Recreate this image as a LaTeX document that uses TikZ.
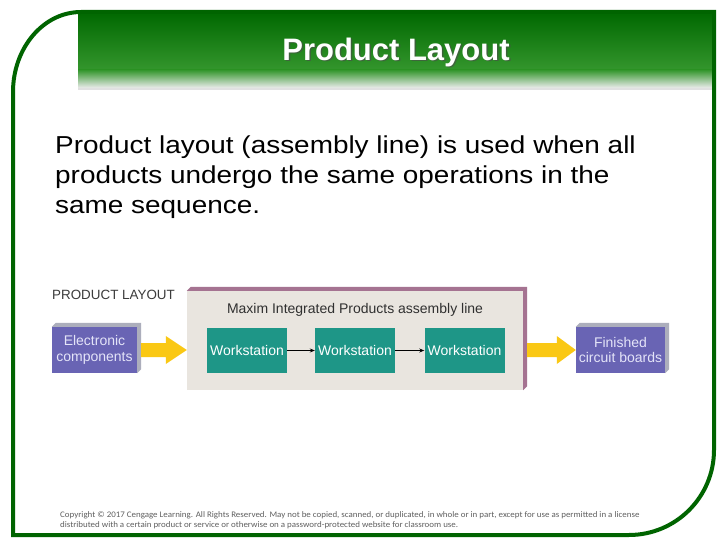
\documentclass[tikz,border=0pt]{standalone}
\usepackage{fontspec}
\setmainfont{Liberation Sans}
\newfontfamily\bodyfont[FakeStretch=1.14]{Liberation Sans}
\newfontfamily\cali[FakeStretch=1.05]{Carlito}
\usetikzlibrary{arrows.meta}
\definecolor{frameg}{RGB}{0,100,0}
\definecolor{hdrdark}{RGB}{0,104,0}
\definecolor{hdrmid}{RGB}{52,150,45}
\definecolor{hdrlight}{RGB}{236,236,236}
\definecolor{mauve}{RGB}{165,115,145}
\definecolor{beige}{RGB}{233,229,223}
\definecolor{tealbox}{RGB}{30,150,135}
\definecolor{purp}{RGB}{105,100,180}
\definecolor{ptext}{RGB}{228,228,248}
\definecolor{depthgray}{RGB}{172,174,188}
\definecolor{yel}{RGB}{250,200,20}
\definecolor{labgray}{RGB}{60,60,60}
\definecolor{copygray}{RGB}{95,95,95}
\begin{document}
\begin{tikzpicture}[x=1pt,y=-1pt,
  wsbox/.style={fill=tealbox, text=white, minimum width=80pt, minimum height=45pt, inner sep=0pt, font=\fontsize{14}{16}\selectfont},
  pbox/.style={fill=purp, text=ptext, minimum height=46pt, inner sep=0pt, align=center, font=\fontsize{14}{15.5}\selectfont},
  yarrow/.style={fill=yel},
  smallarr/.style={draw=black, line width=0.9pt, -{Stealth[length=5pt,width=4pt]}},
  framepath/.style={draw=frameg, line width=4pt},
  bodytxt/.style={anchor=base west, inner sep=0pt, font=\bodyfont\fontsize{24.5}{30}\selectfont},
  copytxt/.style={anchor=base west, inner sep=0pt, text=copygray, font=\cali\fontsize{8.5}{10}\selectfont}
]
\useasboundingbox (0,0) rectangle (720,540);
\fill[white] (0,0) rectangle (720,540);
% header band
\shade[top color=hdrdark, bottom color=hdrmid] (78,12) rectangle (714,70);
\shade[top color=hdrmid, bottom color=hdrlight] (78,70) rectangle (714,88);
\fill[hdrlight!90!gray] (78,88) rectangle (714,90);
\node[text=black!70, opacity=0.6, font=\bfseries\fontsize{31}{34}\selectfont] (titleshadow) at (397.5,53.5) {Product Layout};
\node[text=white, font=\bfseries\fontsize{31}{34}\selectfont] (title) at (396,52) {Product Layout};
% frame
\draw[framepath] (13,535) -- (13,92) arc[start angle=180, end angle=270, x radius=68, y radius=80]
  -- (714,12) -- (714,450) arc[start angle=0, end angle=90, radius=85] -- cycle;
% body text
\node[bodytxt] (b1) at (55,154) {Product layout (assembly line) is used when all};
\node[bodytxt] (b2) at (55,184) {products undergo the same operations in the};
\node[bodytxt] (b3) at (55,214) {same sequence.};
% diagram
\node[anchor=base west, inner sep=0pt, text=labgray, font=\fontsize{13.4}{15}\selectfont] (plabel) at (52,299) {PRODUCT LAYOUT};
\node[fill=beige, minimum width=336pt, minimum height=99pt, inner sep=0pt] (asm) at (355,340.5) {};
\fill[mauve] (asm.north west) -- ([shift={(4,-4)}]asm.north west) -- ([shift={(4,-4)}]asm.north east)
  -- ([shift={(4,-4)}]asm.south east) -- (asm.south east) -- (asm.north east) -- cycle;
\node[text=labgray!80!black, font=\fontsize{14}{16}\selectfont] (asmtitle) at (355,310) {Maxim Integrated Products assembly line};
\node[wsbox] (ws1) at (247,350.5) {Workstation};
\node[wsbox] (ws2) at (355,350.5) {Workstation};
\node[wsbox] (ws3) at (464.5,350.5) {Workstation};
\draw[smallarr] (ws1) -- (ws2);
\draw[smallarr] (ws2) -- (ws3);
\node[pbox, minimum width=85pt] (ec) at (94.5,350) {Electronic\\components};
\fill[depthgray] (ec.north west) -- ([shift={(4,-4)}]ec.north west) -- ([shift={(4,-4)}]ec.north east)
  -- ([shift={(4,-4)}]ec.south east) -- (ec.south east) -- (ec.north east) -- cycle;
\node[pbox, minimum width=89pt] (fc) at (620.5,350) {Finished\\circuit boards};
\fill[depthgray] (fc.north west) -- ([shift={(4,-4)}]fc.north west) -- ([shift={(4,-4)}]fc.north east)
  -- ([shift={(4,-4)}]fc.south east) -- (fc.south east) -- (fc.north east) -- cycle;
% yellow arrows
\coordinate (la) at ([xshift=4pt]ec.east);
\coordinate (lb) at (ec.east -| asm.west);
\fill[yarrow] ([shift={(0,-7)}]la) -- ([shift={(-21,-7)}]lb) -- ([shift={(-21,-14)}]lb) -- (lb)
  -- ([shift={(-21,14)}]lb) -- ([shift={(-21,7)}]lb) -- ([shift={(0,7)}]la) -- cycle;
\coordinate (ra) at ([xshift=4pt]asm.east |- fc.west);
\coordinate (rb) at (fc.west);
\fill[yarrow] ([shift={(0,-7)}]ra) -- ([shift={(-19,-7)}]rb) -- ([shift={(-19,-14)}]rb) -- (rb)
  -- ([shift={(-19,14)}]rb) -- ([shift={(-19,7)}]rb) -- ([shift={(0,7)}]ra) -- cycle;
% copyright
\node[copytxt] (c1) at (60,517) {Copyright © 2017 Cengage Learning. All Rights Reserved. May not be copied, scanned, or duplicated, in whole or in part, except for use as permitted in a license};
\node[copytxt] (c2) at (60,527) {distributed with a certain product or service or otherwise on a password-protected website for classroom use.};
\end{tikzpicture}
\end{document}
